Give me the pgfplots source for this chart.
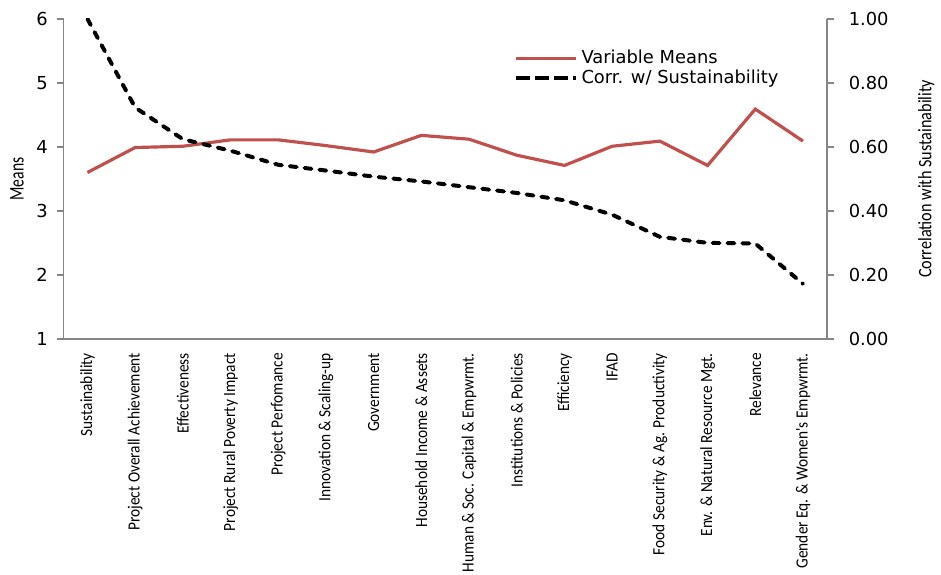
\documentclass[border=0pt]{standalone}
\usepackage{pgfplots}
\pgfplotsset{compat=1.18}
\usepackage{fontspec}
\setmainfont{Carlito}
\newfontfamily\dejavu{DejaVu Sans}
\newfontfamily\narrow[FakeStretch=0.85]{Carlito}
\newfontfamily\meansfont[FakeStretch=0.75]{Carlito}
\newfontfamily\catfont[FakeStretch=0.9]{Carlito}
\definecolor{excelred}{RGB}{192,80,77}
\definecolor{axisgray}{RGB}{134,134,134}

\pgfplotsset{
  common/.style={
    scale only axis, width=384pt, height=161pt,
    at={(0,0)}, anchor=south west,
    xmin=-0.5, xmax=15.5,
    axis line style={axisgray, line width=0.8pt},
    tick style={axisgray, line width=0.8pt},
    major tick length=3.5pt,
    tick align=outside,
    /pgf/number format/assume math mode=true,
    yticklabel style={font=\dejavu\fontsize{9}{10}\selectfont},
  }
}

\begin{document}
\begin{tikzpicture}
\begin{axis}[common,
    axis x line*=bottom, axis y line*=left,
    ymin=1, ymax=6, ytick={1,...,6},
    yticklabel style={xshift=-1pt},
    xtick={0,...,15},
    xtick style={draw=none},
    xticklabels={Sustainability, Project Overall Achievement, Effectiveness,
      Project Rural Poverty Impact, Project Perfomance, Innovation \& Scaling-up,
      Government, Household Income \& Assets, Human \& Soc. Capital \& Empwrmt.,
      Institutions \& Policies, Efficiency, IFAD, Food Security \& Ag. Productivity,
      Env. \& Natural Resource Mgt., Relevance, Gender Eq. \& Women's Empwrmt.},
    xticklabel style={rotate=90, anchor=east, font=\catfont\fontsize{8.6}{9}\selectfont, inner sep=1pt, xshift=-2.5pt},
    extra x ticks={-0.5,0.5,...,15.5},
    extra x tick labels={},
    extra x tick style={major tick length=3.5pt, tick style={axisgray, line width=0.8pt}},
    ylabel={Means},
    every axis y label/.style={at={(rel axis cs:0,0.5)}, xshift=-23.5pt, rotate=90, anchor=center,
      font=\meansfont\fontsize{10.5}{11}\selectfont},
]
\addplot[excelred, line width=1.6pt] coordinates {
  (0,3.60) (1,3.99) (2,4.01) (3,4.11) (4,4.11) (5,4.02) (6,3.92) (7,4.18)
  (8,4.12) (9,3.87) (10,3.71) (11,4.01) (12,4.09) (13,3.71) (14,4.59) (15,4.09)
};
\end{axis}

\begin{axis}[common,
    hide x axis, axis y line*=right,
    ymin=0, ymax=1, ytick={0,0.2,...,1.0},
    yticklabel style={xshift=4pt, /pgf/number format/.cd, fixed, fixed zerofill, precision=2},
    ylabel={Correlation with Sustainability},
    every axis y label/.style={at={(rel axis cs:1,0.5)}, xshift=50pt, rotate=90, anchor=center,
      font=\narrow\fontsize{9.6}{10}\selectfont},
    legend style={at={(0.582,0.928)}, anchor=north west, draw=none, fill=none,
      font=\dejavu\fontsize{9}{10}\selectfont, row sep=-2.5pt},
    legend cell align=left,
    legend image post style={xscale=1.75},
]
\addlegendimage{excelred, line width=1.6pt}
\addlegendentry{Variable Means}
\addlegendimage{black, line width=2pt, dash pattern=on 7pt off 2.5pt}
\addlegendentry{Corr. w/ Sustainability}
\addplot[black, line width=2pt, line cap=round, dash pattern=on 3.5pt off 4pt, forget plot] coordinates {
  (0,1.00) (1,0.723) (2,0.624) (3,0.588) (4,0.544) (5,0.526) (6,0.507) (7,0.492)
  (8,0.474) (9,0.456) (10,0.433) (11,0.388) (12,0.319) (13,0.300) (14,0.298) (15,0.172)
};
\end{axis}
\path (-32pt,-115pt) rectangle (438.5pt,170.5pt);
\end{tikzpicture}
\end{document}
